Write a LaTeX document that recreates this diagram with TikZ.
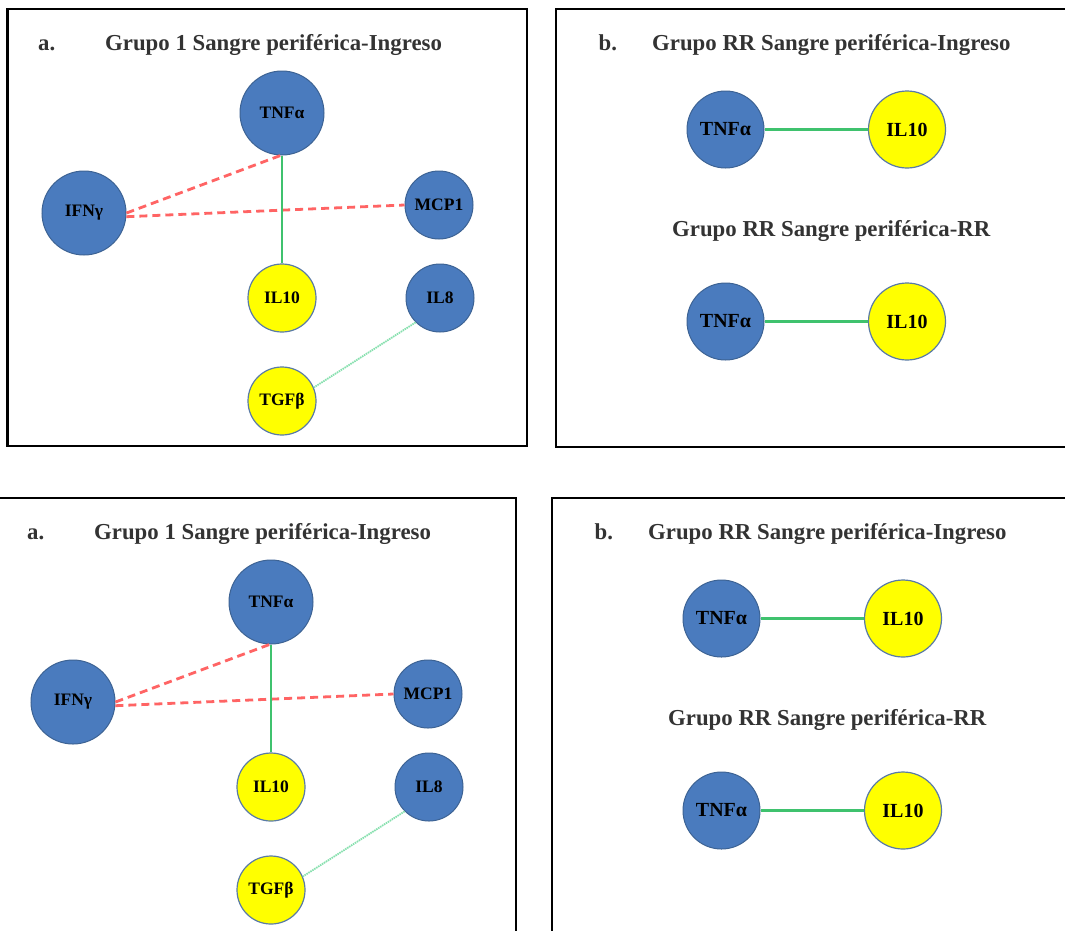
\documentclass[tikz,border=0pt]{standalone}
\usepackage{fontspec}
\setmainfont{Liberation Serif}
\definecolor{nodeblue}{HTML}{4A7BBE}
\definecolor{bluedark}{HTML}{3D6394}
\definecolor{nodeyellow}{HTML}{FFFF00}
\definecolor{yellowedge}{HTML}{5A7BA6}
\definecolor{titlegray}{HTML}{333333}
\definecolor{negred}{HTML}{FF6464}
\definecolor{posgreen}{HTML}{3FC26E}
\definecolor{weakgreen}{HTML}{86E0AE}
\newcommand\panelLeft{%
  \draw[panelbox] (7.5,9) rectangle (527,446);
  \node[ttl] (lab) at (38,50) {a.};
  \node[ttl] (ttl) at (105,50) {Grupo 1 Sangre periférica-Ingreso};
  \node[bnode, minimum size=84pt, font=\fontsize{17.5}{20}\selectfont\bfseries] (tnf) at (282,113) {TNFα};
  \node[bnode, minimum size=84pt, font=\fontsize{17.5}{20}\selectfont\bfseries] (ifn) at (84,213) {IFNγ};
  \node[bnode, minimum size=68pt, font=\fontsize{17.5}{20}\selectfont\bfseries] (mcp) at (439,205) {MCP1};
  \node[ynode, minimum size=68pt, font=\fontsize{17.5}{20}\selectfont\bfseries] (il10) at (282,298) {IL10};
  \node[bnode, minimum size=68pt, font=\fontsize{17.5}{20}\selectfont\bfseries] (il8) at (440,298) {IL8};
  \node[ynode, minimum size=68pt, font=\fontsize{17.5}{20}\selectfont\bfseries] (tgf) at (282,401) {TGFβ};
  \draw[negline] (ifn.0) -- (tnf.-92);
  \draw[negline] (ifn.-5) -- (mcp.west);
  \draw[posline] (tnf.south) -- (il10.north);
  \draw[weakline] (il8.225) -- (tgf.23);
}
\newcommand\panelRight{%
  \draw[panelbox] (556,9) rectangle (1080,447);
  \node[ttl] (lab) at (598.5,50) {b.};
  \node[ttl] (ttl) at (652,50) {Grupo RR Sangre periférica-Ingreso};
  \node[bnode, minimum size=77pt, font=\fontsize{20}{24}\selectfont\bfseries] (tnfA) at (725.5,129.5) {TNFα};
  \node[ynode, minimum size=77pt, font=\fontsize{20}{24}\selectfont\bfseries] (ilA) at (907,129.5) {IL10};
  \node[ttl] (sub) at (672,236) {Grupo RR Sangre periférica-RR};
  \node[bnode, minimum size=77pt, font=\fontsize{20}{24}\selectfont\bfseries] (tnfB) at (725.5,321.5) {TNFα};
  \node[ynode, minimum size=77pt, font=\fontsize{20}{24}\selectfont\bfseries] (ilB) at (907,321.5) {IL10};
  \draw[posline] (tnfA) -- (ilA);
  \draw[posline] (tnfB) -- (ilB);
}
\begin{document}
\begin{tikzpicture}[x=1pt,y=-1pt,
  panelbox/.style={draw=black, line width=2.8pt},
  ttl/.style={anchor=base west, inner sep=0pt, text=titlegray, font=\fontsize{22.8}{27}\selectfont\bfseries},
  bnode/.style={circle, draw=bluedark, fill=nodeblue, line width=1pt, inner sep=0pt, text=black},
  ynode/.style={circle, draw=yellowedge, fill=nodeyellow, line width=1.2pt, inner sep=0pt, text=black},
  negline/.style={draw=negred, line width=2.8pt, dash pattern=on 8pt off 5pt},
  posline/.style={draw=posgreen, line width=2.2pt},
  weakline/.style={draw=weakgreen, line width=1.8pt, dash pattern=on 1.5pt off 0.8pt}]
\clip (0,0) rectangle (1065,930);
\fill[white] (0,0) rectangle (1065,930);
\begin{scope}[name prefix=TL-]
  \panelLeft
\end{scope}
\begin{scope}[name prefix=TR-]
  \panelRight
\end{scope}
\begin{scope}[shift={(-11,489)}, name prefix=BL-]
  \panelLeft
\end{scope}
\begin{scope}[shift={(-4,489)}, name prefix=BR-]
  \panelRight
\end{scope}
\end{tikzpicture}
\end{document}
